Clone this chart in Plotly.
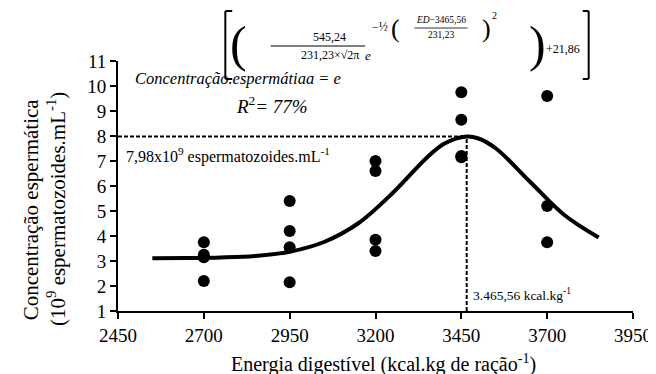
import plotly.graph_objects as go

# ---------------- data ----------------
energy_levels = [2700, 2950, 3200, 3450, 3700]
obs_x = [2700, 2700, 2700, 2700,
         2950, 2950, 2950, 2950,
         3200, 3200, 3200, 3200,
         3450, 3450, 3450, 3450,
         3700, 3700, 3700]
obs_y = [3.75, 3.25, 3.15, 2.2,
         5.4, 4.2, 3.55, 2.15,
         7.0, 6.6, 3.85, 3.4,
         9.75, 8.65, 7.2, 7.15,
         9.6, 5.2, 3.75]

curve_x = [2550, 2650, 2750, 2850, 2950, 3050, 3150, 3250, 3350, 3400,
           3465.56, 3500, 3550, 3650, 3750, 3850]
curve_y = [3.11, 3.12, 3.14, 3.20, 3.37, 3.76, 4.51, 5.72, 7.14, 7.69,
           7.98, 7.90, 7.51, 6.17, 4.84, 3.94]

peak_x = 3465.56
peak_y = 7.98

x_ticks = [2450, 2700, 2950, 3200, 3450, 3700, 3950]
y_ticks = [1, 2, 3, 4, 5, 6, 7, 8, 9, 10, 11]

FONT = '"Liberation Serif", "Times New Roman", Times, serif'

# plot area in pixels
L, R, T, B = 110, 633, 53, 303


def P(xp, yp):
    return dict(x=(xp - L) / (R - L), y=(B - yp) / (B - T), xref="paper", yref="paper")


fig = go.Figure()

fig.add_trace(go.Scatter(x=[x_ticks[0], peak_x], y=[peak_y, peak_y], mode="lines",
                         line=dict(color="black", width=2, dash="4px,2px"),
                         showlegend=False, hoverinfo="skip"))
fig.add_trace(go.Scatter(x=[peak_x, peak_x], y=[y_ticks[0], peak_y], mode="lines",
                         line=dict(color="black", width=2, dash="4px,2px"),
                         showlegend=False, hoverinfo="skip"))

fig.add_trace(go.Scatter(x=obs_x, y=obs_y, mode="markers",
                         marker=dict(color="black", size=12, line=dict(width=0)),
                         showlegend=False))

fig.add_trace(go.Scatter(x=curve_x, y=curve_y, mode="lines",
                         line=dict(color="black", width=4, shape="spline"),
                         showlegend=False))

ann = []


def text(t, xp, yp, size, xanchor="center", yanchor="middle", angle=0):
    d = P(xp, yp)
    d.update(text=t, showarrow=False, xanchor=xanchor, yanchor=yanchor,
             font=dict(family=FONT, size=size, color="black"), textangle=angle)
    ann.append(d)


# axis titles
text("Concentração espermática", 22, 201, 21, angle=-90)
text("(10<sup>9</sup> espermatozoides.mL<sup>-1</sup>)", 47, 201, 21, angle=-90)
text("Energia digestível (kcal.kg de ração<sup>-1</sup>)", 380, 355, 20)

# reference labels
text("7,98x10<sup>9</sup> espermatozoides.mL<sup>-1</sup>", 116, 147, 16, xanchor="left")
text("3.465,56 kcal.kg<sup>-1</sup>", 468, 286, 13.5, xanchor="left")

# equation
text("<i>Concentração.espermátiaa = e</i>", 338, 71, 16.5, xanchor="right")
text("<i>R</i><sup>2</sup><i>= 77%</i>", 266, 97, 19)
text("(", 232, 36, 50)
text("545,24", 325, 29, 12)
text("231,23×√2π", 325, 47, 12)
text("<i>e</i>", 364, 48, 13)
text("−½", 376, 19, 12)
text("(", 392, 20, 26)
text("<i>ED</i>−3465,56", 438, 12, 9.5)
text("231,23", 438, 27, 9.5)
text(")", 484, 20, 26)
text("2", 492, 7, 10)
text(")", 536, 36, 50)
text("+21,86", 562, 41, 12)

shapes = []


def seg(x0, y0, x1, y1, w=1.5):
    a = P(x0, y0)
    b = P(x1, y1)
    shapes.append(dict(type="line", xref="paper", yref="paper",
                       x0=a["x"], y0=a["y"], x1=b["x"], y1=b["y"],
                       line=dict(color="black", width=w)))


# fraction bars
seg(265, 38, 361, 38, 1)
seg(411, 20, 465, 20, 0.8)
# brackets
seg(219, 3, 219, 71, 2)
seg(219, 3, 226, 3, 2)
seg(219, 71, 226, 71, 2)
seg(588, 3, 588, 71, 2)
seg(588, 3, 582, 3, 2)
seg(588, 71, 582, 71, 2)

fig.update_layout(
    width=656, height=374,
    margin=dict(l=L, r=656 - R, t=T, b=374 - B),
    plot_bgcolor="white", paper_bgcolor="white",
    font=dict(family=FONT, size=19, color="black"),
    annotations=ann, shapes=shapes,
    xaxis=dict(range=[x_ticks[0], x_ticks[-1]], tickvals=x_ticks, showline=True,
               linecolor="black", linewidth=2, ticks="outside", ticklen=6, tickwidth=2,
               tickcolor="black", showgrid=False, zeroline=False,
               tickfont=dict(family=FONT, size=19)),
    yaxis=dict(range=[y_ticks[0], y_ticks[-1]], tickvals=y_ticks, showline=True,
               linecolor="black", linewidth=2, ticks="outside", ticklen=6, tickwidth=2,
               tickcolor="black", showgrid=False, zeroline=False,
               tickfont=dict(family=FONT, size=19)),
)

fig.write_html("out.html")
